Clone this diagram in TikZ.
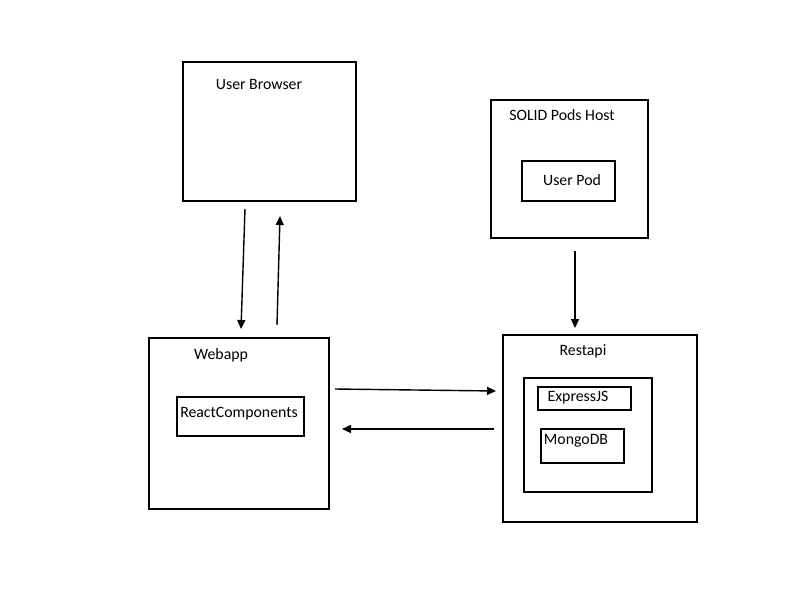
\documentclass[tikz,border=0pt]{standalone}
\usepackage{fontspec}
\setmainfont{Carlito}
\usetikzlibrary{arrows.meta}
\begin{document}
\begin{tikzpicture}[x=1pt,y=-1pt,
  box/.style={draw=black,line width=1.8pt,inner sep=0pt},
  lbl/.style={font=\fontsize{15.8}{18}\selectfont,inner sep=0pt,anchor=center},
  arr/.style={line width=1.4pt,-{Triangle[length=9pt,width=8pt]}}]
\useasboundingbox (0,0) rectangle (800,600);
% boxes
\node[box,minimum width=173pt,minimum height=139pt] (ub) at (269.5,131.5) {};
\node[lbl] (ubt) at (259,84) {User Browser};
\node[box,minimum width=157pt,minimum height=138pt] (sp) at (569.5,169) {};
\node[lbl] (spt) at (562,115) {SOLID Pods Host};
\node[box,minimum width=93pt,minimum height=40pt] (pod) at (568.5,181) {};
\node[lbl] (podt) at (572,180) {User Pod};
\node[box,minimum width=180pt,minimum height=171pt] (wa) at (239,423.5) {};
\node[lbl] (wat) at (221,355) {Webapp};
\node[box,minimum width=127pt,minimum height=39pt] (rc) at (240.5,416.5) {};
\node[lbl] (rct) at (239,414) {ReactComponents};
\node[box,minimum width=194pt,minimum height=187pt] (ra) at (600,428.5) {};
\node[lbl] (rat) at (583,351) {Restapi};
\node[box,minimum width=128pt,minimum height=114pt] (in) at (588,435) {};
\node[box,minimum width=93pt,minimum height=23pt] (ex) at (584.5,398.5) {};
\node[lbl] (ext) at (578,398) {ExpressJS};
\node[box,minimum width=83pt,minimum height=34pt] (mg) at (582.5,446) {};
\node[lbl] (mgt) at (576,441) {MongoDB};
% arrow end points
\coordinate (a1s) at (245,209);
\coordinate (a1e) at (241,329);
\coordinate (a2s) at (277,325);
\coordinate (a2e) at (280,216);
\coordinate (a3s) at (575,251);
\coordinate (a3e) at (575,328);
\coordinate (a4s) at (335,389);
\coordinate (a4e) at (496,391);
\coordinate (a5s) at (494,429);
\coordinate (a5e) at (342,429);
\draw[arr] (a1s) -- (a1e);
\draw[arr] (a2s) -- (a2e);
\draw[arr] (a3s) -- (a3e);
\draw[arr] (a4s) -- (a4e);
\draw[arr] (a5s) -- (a5e);
\end{tikzpicture}
\end{document}
